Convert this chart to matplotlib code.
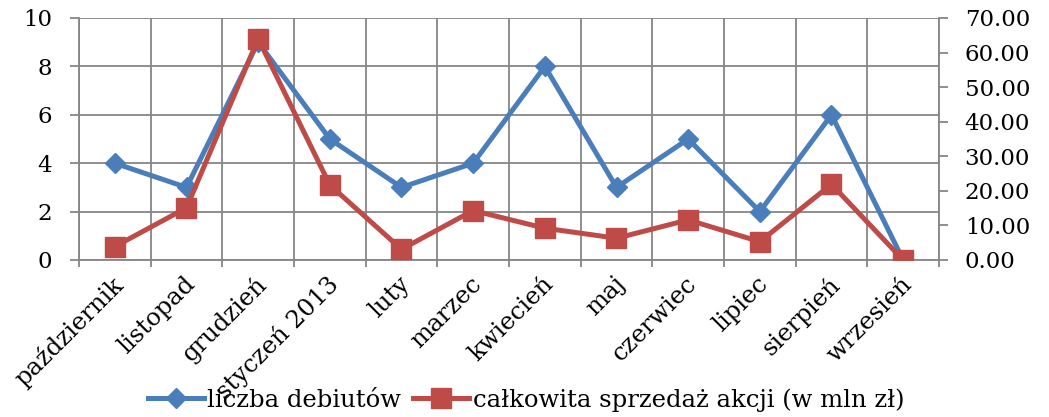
import matplotlib
matplotlib.use("Agg")
import matplotlib.pyplot as plt
from matplotlib.ticker import MultipleLocator
import matplotlib.transforms as mtransforms

months = ["październik", "listopad", "grudzień", "styczeń 2013", "luty", "marzec",
          "kwiecień", "maj", "czerwiec", "lipiec", "sierpień", "wrzesień"]
debuts = [4, 3, 9, 5, 3, 4, 8, 3, 5, 2, 6, 0]
sales = [3.9, 15.1, 64.0, 21.7, 3.1, 14.3, 9.2, 6.3, 11.6, 5.3, 21.9, 0.0]

plt.rcParams['font.family'] = ['DejaVu Serif']
FS = 16.5
FSX = 17.5
BLUE = "#4A7EBB"
RED = "#BE4B48"
GRID = "#868686"

fig = plt.figure(figsize=(10.49, 4.17), dpi=100)
ax = fig.add_axes([79/1049, 1-260/417, (939-79)/1049, (260-18)/417])
ax2 = ax.twinx()

x = list(range(len(months)))
ax.plot(x, debuts, color=BLUE, lw=3.6, marker='D', ms=10, zorder=3, label="liczba debiutów")
ax2.plot(x, sales, color=RED, lw=3.6, marker='s', ms=14.5, zorder=3, label="całkowita sprzedaż akcji (w mln zł)")

ax.set_xlim(-0.5, len(months) - 0.5)
ax.set_ylim(0, 10)
ax2.set_ylim(0, 70)
ax.yaxis.set_major_locator(MultipleLocator(2))
ax2.yaxis.set_major_locator(MultipleLocator(10))
ax2.yaxis.set_major_formatter(matplotlib.ticker.FormatStrFormatter('%.2f'))

ax.set_xticks(x)
ax.set_xticks([i - 0.5 for i in range(len(months) + 1)], minor=True)
ax.tick_params(axis='x', which='major', length=0, pad=9)
ax.tick_params(axis='x', which='minor', length=5, width=1.3, color=GRID, direction='out')
ax.set_xticklabels(months, rotation=45, ha='right', va='top', rotation_mode='anchor', fontsize=FSX)
offset = mtransforms.ScaledTranslation(-3/100, 0, fig.dpi_scale_trans)
for lbl in ax.get_xticklabels():
    lbl.set_transform(lbl.get_transform() + offset)

ax.tick_params(axis='y', length=6.5, width=1.3, color=GRID, pad=13, labelsize=FS)
ax2.tick_params(axis='y', length=6.5, width=1.3, color=GRID, pad=12, labelsize=FS)

ax.grid(True, which='major', axis='y', color=GRID, lw=1.3)
ax.grid(True, which='minor', axis='x', color=GRID, lw=1.3)
ax.set_axisbelow(True)

for a in (ax, ax2):
    for s in a.spines.values():
        s.set_visible(False)
for a, side in ((ax, 'left'), (ax, 'bottom'), (ax2, 'right')):
    a.spines[side].set_visible(True)
    a.spines[side].set_color(GRID)
    a.spines[side].set_linewidth(1.3)

h1, l1 = ax.get_legend_handles_labels()
h2, l2 = ax2.get_legend_handles_labels()
fig.legend(h1 + h2, l1 + l2, loc='center', bbox_to_anchor=(526/1049, 1-400/417),
           ncol=2, frameon=False, fontsize=FSX, handlelength=2.3, handletextpad=0.15,
           columnspacing=0.5, borderpad=0)

fig.savefig("out.png", dpi=100)
